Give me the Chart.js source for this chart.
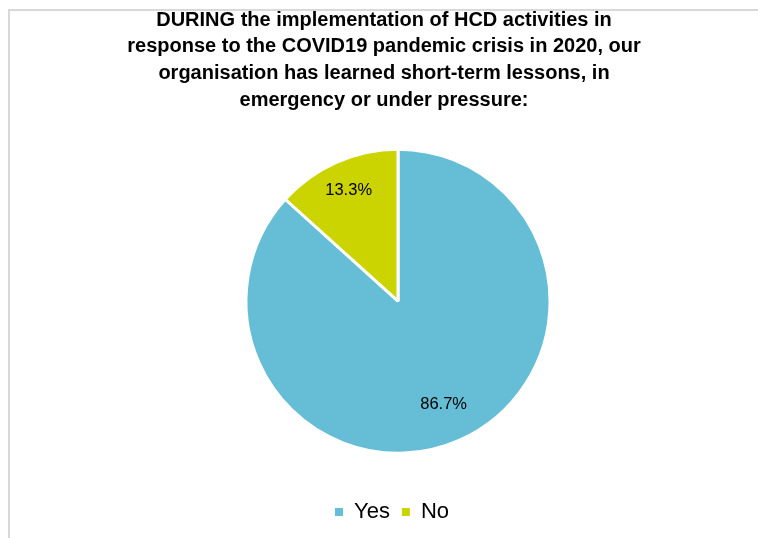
<!DOCTYPE html>
<html>
<head>
<meta charset="utf-8">
<script src="https://cdn.jsdelivr.net/npm/chart.js@4"></script>
<style>
  html, body { margin: 0; padding: 0; background: #ffffff; overflow: hidden; }
  #frame {
    position: absolute; left: 8px; top: 9px; width: 750px; height: 529px;
    border-left: 2px solid #d9d9d9; border-top: 2px solid #d9d9d9;
    box-sizing: border-box;
  }
  #wrap { position: absolute; left: 10px; top: 7px; width: 748px; height: 531px; }
</style>
</head>
<body>
<div id="frame"></div>
<div id="wrap"><canvas id="pieChart"></canvas></div>
<script>
const titleLines = [
  "DURING the implementation of HCD activities in",
  "response to the COVID19 pandemic crisis in 2020, our",
  "organisation has learned short-term lessons, in",
  "emergency or under pressure:"
];
const labels = ["Yes", "No"];
const shares = [86.7, 13.3];
const sliceColors = ["#65bdd6", "#ccd400"];

// pie and legend sit a little right of the title centre, like the original
const shiftPlot = {
  id: "shiftPlot",
  afterLayout(chart) {
    chart.chartArea.left += 28;
    chart.legend.left += 8;
    chart.legend.right += 8;
  }
};

const pctLabels = {
  id: "pctLabels",
  afterDatasetsDraw(chart) {
    const { ctx } = chart;
    const arcs = chart.getDatasetMeta(0).data;
    ctx.save();
    ctx.font = "16.5px 'Liberation Sans', Arial, sans-serif";
    ctx.fillStyle = "#000000";
    ctx.textAlign = "center";
    ctx.textBaseline = "middle";
    arcs.forEach((arc, i) => {
      const mid = (arc.startAngle + arc.endAngle) / 2;
      const r = arc.outerRadius * (i === 0 ? 0.74 : 0.8);
      ctx.fillText(`${shares[i].toFixed(1)}%`, arc.x + Math.cos(mid) * r, arc.y + Math.sin(mid) * r);
    });
    ctx.restore();
  }
};

new Chart(document.getElementById("pieChart"), {
  type: "pie",
  data: {
    labels,
    datasets: [{
      data: shares,
      backgroundColor: sliceColors,
      borderColor: "#ffffff",
      borderWidth: 3,
      radius: 152
    }]
  },
  options: {
    responsive: true,
    maintainAspectRatio: false,
    animation: false,
    layout: { padding: { top: 0, bottom: 5 } },
    plugins: {
      title: {
        display: true,
        text: titleLines,
        color: "#000000",
        font: { family: "'Liberation Sans', Arial, sans-serif", size: 20, weight: "bold", lineHeight: 1.33 },
        padding: { top: 0, bottom: 0 }
      },
      legend: {
        position: "bottom",
        labels: {
          color: "#000000",
          font: { family: "'Liberation Sans', Arial, sans-serif", size: 22 },
          boxWidth: 8,
          boxHeight: 8,
          padding: 12,
          generateLabels: chart =>
            Chart.overrides.pie.plugins.legend.labels.generateLabels(chart)
              .map(item => ({ ...item, lineWidth: 0 }))
        }
      },
      tooltip: { enabled: false }
    }
  },
  plugins: [shiftPlot, pctLabels]
});
</script>
</body>
</html>
